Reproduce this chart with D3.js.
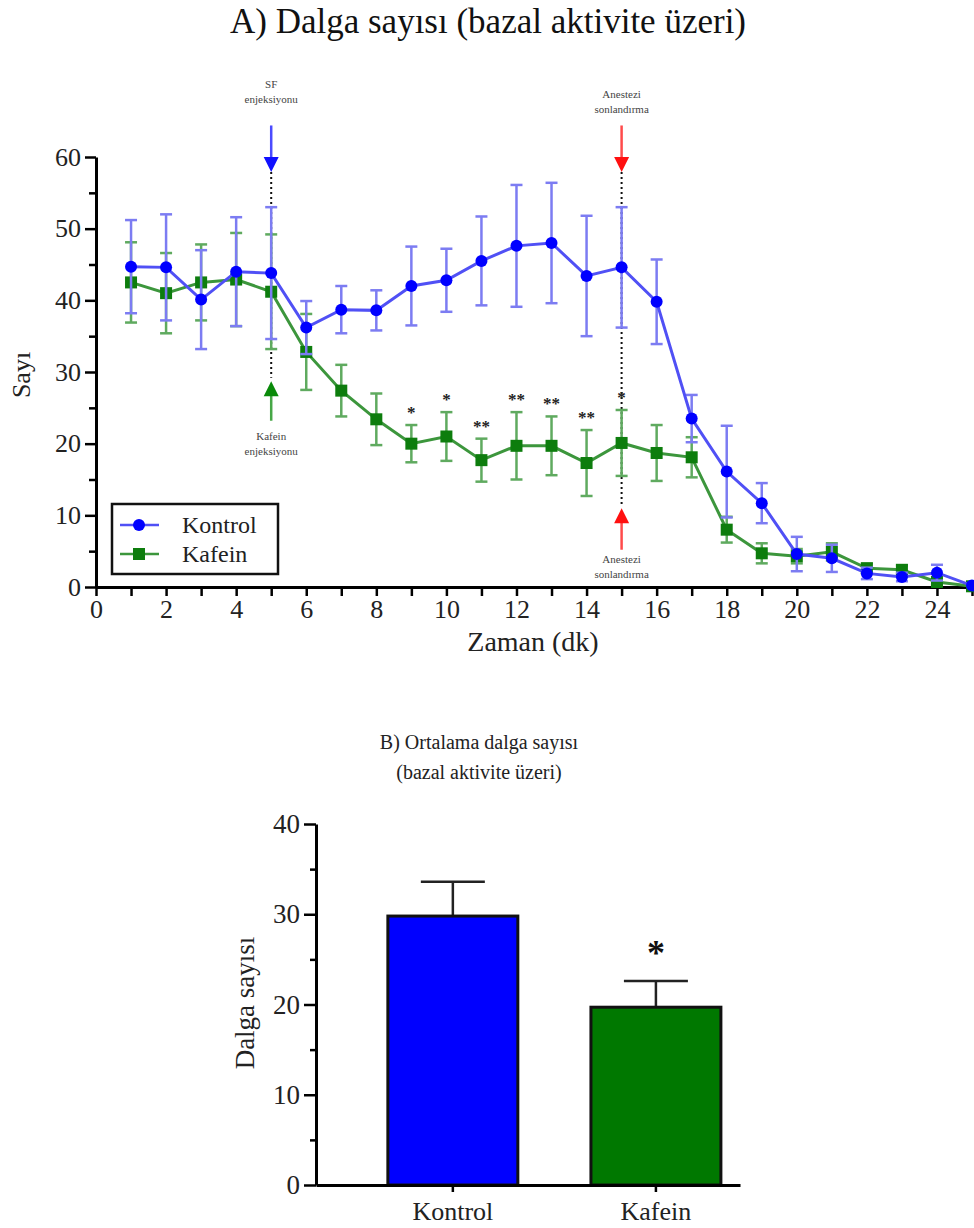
<!DOCTYPE html>
<html>
<head>
<meta charset="utf-8">
<script src="https://d3js.org/d3.v7.min.js"></script>
<style>
  body { margin: 0; background: #fff; }
  text { font-family: "Liberation Serif", "Times New Roman", serif; }
</style>
</head>
<body>
<script>
// ---- data ----
const minutes = d3.range(1, 26);
const kontrolMean = [44.7, 44.6, 40.1, 44.0, 43.8, 36.2, 38.7, 38.6, 42.0, 42.8, 45.5, 47.6, 48.0, 43.4, 44.6, 39.8, 23.5, 16.1, 11.7, 4.6, 4.0, 1.9, 1.4, 2.0, 0.2];
const kontrolSem  = [6.5, 7.4, 6.9, 7.6, 9.2, 3.7, 3.3, 2.8, 5.5, 4.4, 6.2, 8.5, 8.4, 8.4, 8.4, 5.9, 3.3, 6.4, 2.8, 2.4, 1.9, 0.8, 0.6, 1.1, 0];
const kafeinMean  = [42.5, 41.0, 42.5, 42.9, 41.2, 32.8, 27.4, 23.4, 20.0, 21.0, 17.7, 19.7, 19.7, 17.3, 20.1, 18.7, 18.1, 8.0, 4.7, 4.3, 4.9, 2.6, 2.4, 0.7, 0.1];
const kafeinSem   = [5.6, 5.6, 5.3, 6.5, 8.0, 5.3, 3.6, 3.6, 2.6, 3.4, 3.0, 4.7, 4.1, 4.6, 4.6, 3.9, 2.8, 1.8, 1.4, 1.0, 1.2, 0.7, 0.6, 0.4, 0];
const sigMinutes  = [9, 10, 11, 12, 13, 14, 15];
const sigLabels   = ["*", "*", "**", "**", "**", "**", "*"];

const groups   = ["Kontrol", "Kafein"];
const barMeans = [29.8, 19.7];
const barSem   = [3.8, 2.9];
const barSig   = ["", "*"];

const W = 974, H = 1228;
const svg = d3.select("body").append("svg")
  .attr("width", W).attr("height", H)
  .style("background", "#fff");

// ================= A) line chart =================
const xA = d3.scaleLinear().domain([0, 25]).range([96, 972]);
const yA = d3.scaleLinear().domain([0, 60]).range([587, 157]);

svg.append("text").attr("x", 488).attr("y", 33).attr("text-anchor", "middle")
  .attr("font-size", 35).attr("fill", "#111")
  .text("A) Dalga sayısı (bazal aktivite üzeri)");

function styleAxis(g, fs) {
  g.select(".domain").attr("stroke", "#000").attr("stroke-width", 3);
  g.selectAll(".tick line").attr("stroke", "#000").attr("stroke-width", 2.5);
  g.selectAll(".tick text").attr("font-size", fs).attr("fill", "#222")
    .attr("font-family", "Liberation Serif, serif");
}

// y axis, major + minor ticks
svg.append("g").attr("transform", "translate(96,0)")
  .call(d3.axisLeft(yA).tickValues(d3.range(5, 60, 10)).tickSize(7).tickFormat(""))
  .call(g => { g.select(".domain").remove(); styleAxis(g, 26); });
svg.append("g").attr("transform", "translate(96,0)")
  .call(d3.axisLeft(yA).tickValues(d3.range(0, 61, 10)).tickSize(11).tickSizeOuter(0).tickPadding(4))
  .call(g => styleAxis(g, 26));

// x axis
svg.append("g").attr("transform", "translate(0,587)")
  .call(d3.axisBottom(xA).tickValues(d3.range(0, 26)).tickSize(9).tickSizeOuter(0).tickPadding(4)
    .tickFormat(d => d % 2 === 0 ? d : ""))
  .call(g => styleAxis(g, 26));

svg.append("text").attr("x", 533).attr("y", 651).attr("text-anchor", "middle")
  .attr("font-size", 28).attr("fill", "#222").text("Zaman (dk)");
svg.append("text").attr("transform", "translate(30,375) rotate(-90)").attr("text-anchor", "middle")
  .attr("font-size", 26).attr("fill", "#222").text("Sayı");

// annotations (arrows + dotted guides), positions in data units
function arrow(x, yFrom, yTo, color) {
  const px = xA(x), y0 = yA(yFrom), y1 = yA(yTo);
  const dir = y1 > y0 ? 1 : -1;
  svg.append("line").attr("x1", px).attr("x2", px).attr("y1", y0).attr("y2", y1 - dir * 12)
    .attr("stroke", color).attr("stroke-width", 2.5).attr("opacity", 0.75);
  svg.append("path")
    .attr("d", `M${px - 7.5},${y1 - dir * 15} L${px + 7.5},${y1 - dir * 15} L${px},${y1} Z`)
    .attr("fill", color);
}
function note(x, yVal, lines) {
  lines.forEach((t, i) => {
    svg.append("text").attr("x", xA(x)).attr("y", yA(yVal) + i * 15)
      .attr("text-anchor", "middle").attr("font-size", 11).attr("fill", "#444").text(t);
  });
}
function dotted(x, yFrom, yTo) {
  svg.append("line").attr("x1", xA(x)).attr("x2", xA(x)).attr("y1", yA(yFrom)).attr("y2", yA(yTo))
    .attr("stroke", "#111").attr("stroke-width", 2).attr("stroke-dasharray", "2,3");
}
dotted(5, 57.9, 29.2);
dotted(15, 57.9, 11.4);
arrow(5, 64.4, 57.9, "#1010ff");
arrow(15, 64.4, 57.9, "#ff1010");
arrow(5, 23.2, 28.7, "#0a8a0a");
arrow(15, 5.2, 11.0, "#ff1010");
note(5, 69.6, ["SF", "enjeksiyonu"]);
note(15, 68.3, ["Anestezi", "sonlandırma"]);
note(5, 20.5, ["Kafein", "enjeksiyonu"]);
note(15, 3.4, ["Anestezi", "sonlandırma"]);

// series
const series = [
  { name: "Kafein", mean: kafeinMean, sem: kafeinSem, line: "#3c963c", err: "#5faa5f", mark: "#0d7d0d", shape: "square" },
  { name: "Kontrol", mean: kontrolMean, sem: kontrolSem, line: "#5050f5", err: "#7c7cf2", mark: "#0000ff", shape: "circle" }
];

series.forEach(s => {
  const g = svg.append("g");
  minutes.forEach((m, i) => {
    if (s.sem[i] <= 0) return;
    const px = xA(m), yt = yA(s.mean[i] + s.sem[i]), yb = yA(s.mean[i] - s.sem[i]);
    g.append("line").attr("x1", px).attr("x2", px).attr("y1", yt).attr("y2", yb)
      .attr("stroke", s.err).attr("stroke-width", 2.5);
    [yt, yb].forEach(y => g.append("line").attr("x1", px - 6).attr("x2", px + 6).attr("y1", y).attr("y2", y)
      .attr("stroke", s.err).attr("stroke-width", 2.5));
  });
  g.append("path").datum(minutes.map((m, i) => [m, s.mean[i]]))
    .attr("d", d3.line().x(d => xA(d[0])).y(d => yA(d[1])))
    .attr("fill", "none").attr("stroke", s.line).attr("stroke-width", 3);
  minutes.forEach((m, i) => {
    if (s.shape === "circle") {
      g.append("circle").attr("cx", xA(m)).attr("cy", yA(s.mean[i])).attr("r", 6).attr("fill", s.mark);
    } else {
      g.append("rect").attr("x", xA(m) - 6).attr("y", yA(s.mean[i]) - 6).attr("width", 12).attr("height", 12).attr("fill", s.mark);
    }
  });
});

// significance stars above Kafein error bars
sigMinutes.forEach((m, i) => {
  const k = minutes.indexOf(m);
  svg.append("text").attr("x", xA(m)).attr("y", yA(kafeinMean[k] + kafeinSem[k]) - 7)
    .attr("text-anchor", "middle").attr("font-size", 17).attr("font-weight", "bold").attr("fill", "#222")
    .text(sigLabels[i]);
});

// legend
const lg = svg.append("g");
lg.append("rect").attr("x", 112).attr("y", 504).attr("width", 166).attr("height", 70)
  .attr("fill", "#fff").attr("stroke", "#111").attr("stroke-width", 2.5);
[series[1], series[0]].forEach((s, i) => {
  const y = 525 + i * 29;
  lg.append("line").attr("x1", 120).attr("x2", 159).attr("y1", y).attr("y2", y).attr("stroke", s.line).attr("stroke-width", 2.5);
  if (s.shape === "circle") lg.append("circle").attr("cx", 139).attr("cy", y).attr("r", 6).attr("fill", s.mark);
  else lg.append("rect").attr("x", 133).attr("y", y - 6).attr("width", 12).attr("height", 12).attr("fill", s.mark);
  lg.append("text").attr("x", 182).attr("y", y + 8).attr("font-size", 24).attr("fill", "#222").text(s.name);
});

// ================= B) bar chart =================
const yB = d3.scaleLinear().domain([0, 40]).range([1185, 824]);
const xB = d3.scaleBand().domain(groups).range([316, 740]).paddingInner(0.36).paddingOuter(0.224).align(0.79);
const barColors = ["#0000ff", "#007800"];

svg.append("text").attr("x", 479).attr("y", 749).attr("text-anchor", "middle")
  .attr("font-size", 20).attr("fill", "#222").text("B) Ortalama dalga sayısı");
svg.append("text").attr("x", 479).attr("y", 779).attr("text-anchor", "middle")
  .attr("font-size", 20).attr("fill", "#222").text("(bazal aktivite üzeri)");

svg.append("g").attr("transform", "translate(316,0)")
  .call(d3.axisLeft(yB).tickValues(d3.range(5, 40, 10)).tickSize(6).tickFormat(""))
  .call(g => { g.select(".domain").remove(); styleAxis(g, 26); });
svg.append("g").attr("transform", "translate(316,0)")
  .call(d3.axisLeft(yB).tickValues(d3.range(0, 41, 10)).tickSize(12).tickSizeOuter(0).tickPadding(4))
  .call(g => styleAxis(g, 27));

// error bars (upward only) behind bars
groups.forEach((gName, i) => {
  const cx = xB(gName) + xB.bandwidth() / 2;
  const yt = yB(barMeans[i] + barSem[i]);
  svg.append("line").attr("x1", cx).attr("x2", cx).attr("y1", yB(barMeans[i])).attr("y2", yt)
    .attr("stroke", "#222").attr("stroke-width", 2.5);
  svg.append("line").attr("x1", cx - 32).attr("x2", cx + 32).attr("y1", yt).attr("y2", yt)
    .attr("stroke", "#222").attr("stroke-width", 2.5);
  if (barSig[i]) {
    svg.append("text").attr("x", cx).attr("y", yt - 16).attr("text-anchor", "middle")
      .attr("font-size", 36).attr("font-weight", "bold").attr("fill", "#111").text(barSig[i]);
  }
});

svg.selectAll("rect.bar").data(groups).join("rect").attr("class", "bar")
  .attr("x", d => xB(d)).attr("width", xB.bandwidth())
  .attr("y", (d, i) => yB(barMeans[i])).attr("height", (d, i) => yB(0) - yB(barMeans[i]))
  .attr("fill", (d, i) => barColors[i]).attr("stroke", "#111").attr("stroke-width", 3);

svg.append("g").attr("transform", "translate(0,1185)")
  .call(d3.axisBottom(xB).tickSize(7).tickSizeOuter(0).tickPadding(10))
  .call(g => styleAxis(g, 26));

svg.append("text").attr("transform", "translate(254,1003) rotate(-90)").attr("text-anchor", "middle")
  .attr("font-size", 27).attr("fill", "#222").text("Dalga sayısı");
</script>
</body>
</html>
